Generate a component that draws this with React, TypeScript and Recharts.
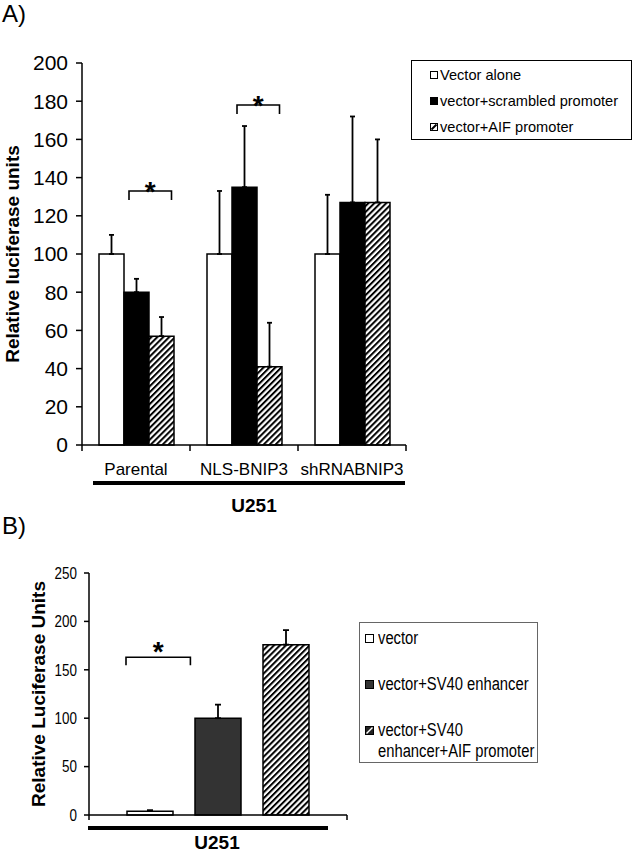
import React from 'react'
import { BarChart, Bar, XAxis, YAxis, ErrorBar, Legend, LabelList } from 'recharts'

const FONT = 'Arial, "Liberation Sans", Helvetica, sans-serif'

// panel A
const cellLines = ['Parental', 'NLS-BNIP3', 'shRNABNIP3']
const seriesKeysA = ['alone', 'scrambled', 'aif']
const seriesNamesA = ['Vector alone', 'vector+scrambled promoter', 'vector+AIF promoter']
const vectorAlone = [100, 100, 100]
const vectorAloneErr = [10, 33, 31]
const scrambledPromoter = [80, 135, 127]
const scrambledPromoterErr = [7, 32, 45]
const aifPromoter = [57, 41, 127]
const aifPromoterErr = [10, 23, 33]
// level of the * bracket (scrambled vs AIF), null = none
const bracketA = [133, 178, null]
const yTicksA = [0, 20, 40, 60, 80, 100, 120, 140, 160, 180, 200]

// panel B
const cellLineB = ['U251']
const seriesKeysB = ['vec', 'sv40', 'sv40aif']
const seriesNamesB = ['vector', 'vector+SV40 enhancer', 'vector+SV40 enhancer+AIF promoter']
const vectorB = [4]
const vectorBErr = [1]
const sv40 = [100]
const sv40Err = [14]
const sv40Aif = [176]
const sv40AifErr = [15]
const bracketB = [163]
const yTicksB = [0, 50, 100, 150, 200, 250]

const dataA = cellLines.map((name, i) => ({
  name,
  alone: vectorAlone[i],
  aloneErr: [0, vectorAloneErr[i]],
  scrambled: scrambledPromoter[i],
  scrambledErr: [0, scrambledPromoterErr[i]],
  aif: aifPromoter[i],
  aifErr: [0, aifPromoterErr[i]],
  bracket: bracketA[i],
}))

const dataB = cellLineB.map((name, i) => ({
  name,
  vec: vectorB[i],
  vecErr: [0, vectorBErr[i]],
  sv40: sv40[i],
  sv40Err: [0, sv40Err[i]],
  sv40aif: sv40Aif[i],
  sv40aifErr: [0, sv40AifErr[i]],
  bracket: bracketB[i],
}))

function Hatch({ id }: { id: string }) {
  return (
    <pattern id={id} width={4.2} height={4.2} patternUnits="userSpaceOnUse" patternTransform="rotate(45)">
      <rect width={4.2} height={4.2} fill="#fff" />
      <rect width={2} height={4.2} fill="#000" />
    </pattern>
  )
}

function Swatch({ color, size, dark }: { color: string; size: number; dark?: boolean }) {
  const hatched = String(color).startsWith('url')
  return (
    <svg width={size} height={size} style={{ flexShrink: 0, display: 'block' }}>
      <rect x={0.5} y={0.5} width={size - 1} height={size - 1} fill={hatched ? (dark ? '#222' : '#fff') : color} stroke="#000" strokeWidth={1} />
      {hatched && <line x1={1.5} y1={size - 1.5} x2={size - 1.5} y2={1.5} stroke={dark ? '#fff' : '#000'} strokeWidth={dark ? 1.4 : 2} />}
    </svg>
  )
}

function sortPayload(payload: any[], keys: string[]) {
  return [...(payload || [])].sort((a, b) => keys.indexOf(a.dataKey) - keys.indexOf(b.dataKey))
}

function LegendA({ payload }: any) {
  const items = sortPayload(payload, seriesKeysA)
  return (
    <div style={{ width: '100%', height: '100%', boxSizing: 'border-box', border: '1.5px solid #000', background: '#fff', fontFamily: FONT, fontSize: 14.6, color: '#000', paddingTop: 1, paddingLeft: 18 }}>
      {items.map((p: any, i: number) => (
        <div key={i} style={{ height: 26, display: 'flex', alignItems: 'center', whiteSpace: 'nowrap' }}>
          <Swatch color={p.color} size={8} />
          <span style={{ marginLeft: 2 }}>{p.value}</span>
        </div>
      ))}
    </div>
  )
}

function LegendB({ payload }: any) {
  const items = sortPayload(payload, seriesKeysB)
  return (
    <div style={{ position: 'relative', width: '100%', height: '100%', boxSizing: 'border-box', border: '1px solid #666', background: '#fff', fontFamily: FONT, color: '#000' }}>
      {items.map((p: any, i: number) => (
        <div key={i} style={{ position: 'absolute', left: 5, top: 4.5 + i * 46, width: 'max-content', display: 'flex', alignItems: 'flex-start' }}>
          <div style={{ marginTop: 6 }}>
            <Swatch color={p.color} size={9} dark />
          </div>
          <div style={{ flexShrink: 0, width: 200, marginLeft: 4, fontSize: 18, lineHeight: '21px', transform: 'scaleX(0.82)', transformOrigin: 'left top' }}>
            {p.value}
          </div>
        </div>
      ))}
    </div>
  )
}

function YTitle(props: any) {
  const { viewBox, text, dx, fontSize } = props
  const cx = viewBox.x + dx
  const cy = viewBox.y + viewBox.height / 2
  return (
    <text x={cx} y={cy} transform={`rotate(-90 ${cx} ${cy})`} textAnchor="middle" dominantBaseline="central" fontSize={fontSize} fontWeight="bold" fontFamily={FONT} fill="#000">
      {text}
    </text>
  )
}

// boundary ticks, the group underline and the group name below the category axis
function GroupLabel(props: any) {
  const { viewBox, text, count, tickLen, lineDy, insetLeft, insetRight, textDy, textDx, fontSize } = props
  const { x, y, width } = viewBox
  const band = width / count
  const edges = Array.from({ length: count + 1 }, (_, i) => x + i * band)
  return (
    <g>
      {edges.map((ex, i) => (
        <line key={i} x1={ex} x2={ex} y1={y} y2={y + tickLen} stroke="#000" strokeWidth={1.5} />
      ))}
      <line x1={x + insetLeft} x2={x + width - insetRight} y1={y + lineDy} y2={y + lineDy} stroke="#000" strokeWidth={4} />
      <text x={x + width / 2 + textDx} y={y + textDy} textAnchor="middle" fontSize={fontSize} fontWeight="bold" fontFamily={FONT} fill="#000">
        {text}
      </text>
    </g>
  )
}

// significance bracket drawn relative to the bar it is attached to
function Bracket(props: any) {
  const { value, leftFrac, rightFrac, drop, starGap } = props
  if (!value || value.level == null) return null
  const vb = props.viewBox || props
  const { x, y, width, height } = vb
  const base = y + height
  const unit = height / value.bar
  const yy = base - value.level * unit
  const x1 = x + width * leftFrac
  const x2 = x + width * rightFrac
  return (
    <g>
      <path d={`M${x1},${yy + drop}V${yy}H${x2}V${yy + drop}`} fill="none" stroke="#000" strokeWidth={1.6} />
      <text x={(x1 + x2) / 2} y={yy + 11 - starGap} textAnchor="middle" fontSize={28} fontWeight="bold" fontFamily={FONT} fill="#000">
        *
      </text>
    </g>
  )
}

function NarrowTick({ x, y, payload }: any) {
  return (
    <text transform={`translate(${x},${y}) scale(0.84,1)`} textAnchor="end" dy="0.36em" fontSize={16} fontFamily={FONT} fill="#000">
      {payload.value}
    </text>
  )
}

const axisStroke = { stroke: '#000', strokeWidth: 1.5 }

function ChartA() {
  return (
    <BarChart width={633} height={520} data={dataA} margin={{ top: 63, right: 227, bottom: 0, left: 0 }} barCategoryGap={17} barGap={0}>
      <defs>
        <Hatch id="hatchA" />
      </defs>
      <XAxis
        dataKey="name"
        height={75}
        interval={0}
        tickLine={false}
        tickSize={6}
        tickMargin={12}
        axisLine={axisStroke}
        tick={{ fontSize: 17, fill: '#000', fontFamily: FONT }}
        label={<GroupLabel text="U251" count={cellLines.length} tickLen={6} lineDy={38} insetLeft={11} insetRight={1} textDy={67} textDx={10} fontSize={19} />}
      />
      <YAxis
        domain={[0, 200]}
        ticks={yTicksA}
        interval={0}
        width={82}
        tickSize={6}
        tickMargin={8}
        axisLine={axisStroke}
        tickLine={axisStroke}
        tick={{ fontSize: 21, fill: '#000', fontFamily: FONT }}
        label={<YTitle text="Relative luciferase units" dx={12} fontSize={19} />}
      />
      <Legend
        layout="horizontal"
        verticalAlign="middle"
        align="center"
        itemSorter={(item: any) => seriesKeysA.indexOf(item.dataKey)}
        wrapperStyle={{ left: 411, top: 60, width: 221, height: 80 }}
        content={(p: any) => <LegendA {...p} />}
      />
      <Bar dataKey="alone" name={seriesNamesA[0]} fill="#fff" stroke="#000" strokeWidth={1.5} isAnimationActive={false}>
        <ErrorBar dataKey="aloneErr" direction="y" width={2.5} stroke="#000" strokeWidth={1.8} />
      </Bar>
      <Bar dataKey="scrambled" name={seriesNamesA[1]} fill="#000" stroke="#000" strokeWidth={1.5} isAnimationActive={false}>
        <ErrorBar dataKey="scrambledErr" direction="y" width={2.5} stroke="#000" strokeWidth={1.8} />
        <LabelList
          dataKey={(d: any) => (d.bracket == null ? null : { level: d.bracket, bar: d.scrambled })}
          content={<Bracket leftFrac={0.2} rightFrac={1.9} drop={9} starGap={1} />}
        />
      </Bar>
      <Bar dataKey="aif" name={seriesNamesA[2]} fill="url(#hatchA)" stroke="#000" strokeWidth={1.5} isAnimationActive={false}>
        <ErrorBar dataKey="aifErr" direction="y" width={2.5} stroke="#000" strokeWidth={1.8} />
      </Bar>
    </BarChart>
  )
}

function ChartB() {
  return (
    <BarChart width={633} height={333} data={dataB} margin={{ top: 53, right: 286, bottom: 0, left: 0 }} barSize={46} barGap={22}>
      <defs>
        <Hatch id="hatchB" />
      </defs>
      <XAxis
        dataKey="name"
        height={38}
        tick={false}
        tickLine={false}
        axisLine={axisStroke}
        label={<GroupLabel text="U251" count={cellLineB.length} tickLen={5} lineDy={13} insetLeft={-1} insetRight={19} textDy={34} textDx={-1} fontSize={19} />}
      />
      <YAxis
        domain={[0, 250]}
        ticks={yTicksB}
        interval={0}
        width={89}
        tickSize={5}
        tickMargin={7}
        axisLine={axisStroke}
        tickLine={axisStroke}
        tick={<NarrowTick />}
        label={<YTitle text="Relative Luciferase Units" dx={38} fontSize={19} />}
      />
      <Legend
        layout="horizontal"
        verticalAlign="middle"
        align="center"
        itemSorter={(item: any) => seriesKeysB.indexOf(item.dataKey)}
        wrapperStyle={{ left: 359, top: 102, width: 179, height: 141 }}
        content={(p: any) => <LegendB {...p} />}
      />
      <Bar dataKey="vec" name={seriesNamesB[0]} fill="#fff" stroke="#000" strokeWidth={1.5} isAnimationActive={false}>
        <ErrorBar dataKey="vecErr" direction="y" width={3} stroke="#000" strokeWidth={1.8} />
      </Bar>
      <Bar dataKey="sv40" name={seriesNamesB[1]} fill="#333" stroke="#000" strokeWidth={1.5} isAnimationActive={false}>
        <ErrorBar dataKey="sv40Err" direction="y" width={3} stroke="#000" strokeWidth={1.8} />
        <LabelList
          dataKey={(d: any) => (d.bracket == null ? null : { level: d.bracket, bar: d.sv40 })}
          content={<Bracket leftFrac={-1.5} rightFrac={-0.1} drop={8} starGap={7} />}
        />
      </Bar>
      <Bar dataKey="sv40aif" name={seriesNamesB[2]} fill="url(#hatchB)" stroke="#000" strokeWidth={1.5} isAnimationActive={false}>
        <ErrorBar dataKey="sv40aifErr" direction="y" width={3} stroke="#000" strokeWidth={1.8} />
      </Bar>
    </BarChart>
  )
}

export default function App() {
  return (
    <div style={{ position: 'absolute', left: 0, top: 0, width: 633, height: 853, background: '#fff', fontFamily: FONT, color: '#000', overflow: 'hidden' }}>
      <div style={{ position: 'absolute', left: 0, top: 0 }}>
        <ChartA />
      </div>
      <div style={{ position: 'absolute', left: 0, top: 520 }}>
        <ChartB />
      </div>
      <div style={{ position: 'absolute', left: 2, top: 0, fontSize: 24 }}>A)</div>
      <div style={{ position: 'absolute', left: 2, top: 512, fontSize: 24 }}>B)</div>
    </div>
  )
}
